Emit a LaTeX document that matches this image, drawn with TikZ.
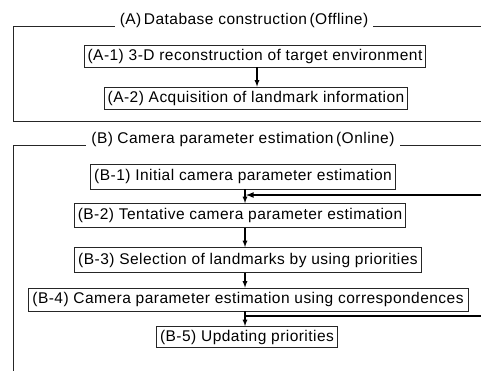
\documentclass[tikz,border=0pt]{standalone}
\usepackage{fontspec}
\setmainfont[LetterSpace=3]{Liberation Sans}
\tikzset{
  stepbox/.style={draw=black!85, line width=0.8pt, inner xsep=3.5pt, minimum height=22pt, inner ysep=0pt},
  legend/.style={fill=white, inner xsep=5pt, inner ysep=0pt},
  frame/.style={draw=black!85, line width=0.8pt},
  flow/.style={line width=1.2pt, ->},
  fb/.style={line width=1.6pt}
}
\begin{document}
\begin{tikzpicture}[x=1pt, y=-1pt, >=latex, font=\fontsize{15.5}{18}\selectfont]
  \useasboundingbox (0,0) rectangle (481,370);
  % (A) offline part
  \draw[frame] (490,26) -- (13,26) -- (13,121) -- (490,121);
  \node[legend] (TA) at (244,20) {(A)\,Database construction\,(Offline)};
  \node[stepbox] (A1) at (255,56) {(A-1) 3-D reconstruction of target environment};
  \node[stepbox] (A2) at (256,98) {(A-2) Acquisition of landmark information};
  \draw[flow] (A1.south -| 257,0) -- (A2.north -| 257,0);
  % (B) online part
  \draw[frame] (490,145) -- (13,145) -- (13,380);
  \node[legend] (TB) at (243,139) {(B)\;Camera parameter estimation\,(Online)};
  \node[stepbox, minimum height=25pt] (B1) at (243,176.5) {(B-1) Initial camera parameter estimation};
  \node[stepbox, minimum height=24pt] (B2) at (240,215.5) {(B-2) Tentative camera parameter estimation};
  \node[stepbox, minimum height=25pt] (B3) at (248,260) {(B-3) Selection of landmarks by using priorities};
  \node[stepbox, minimum height=23pt, inner xsep=4.5pt] (B4) at (248,299.5) {(B-4) Camera parameter estimation using correspondences};
  \node[stepbox, minimum height=21pt] (B5) at (247,337) {(B-5) Updating priorities};
  \coordinate (sp) at (245,0);
  \coordinate (fbin) at (246,195);
  \coordinate (fbout) at (245,316);
  \coordinate (fbr1) at (495,316);
  \coordinate (fbr2) at (495,195);
  \draw[flow] (B1.south -| sp) -- (B2.north -| sp);
  \draw[flow] (B2.south -| sp) -- (B3.north -| sp);
  \draw[flow] (B3.south -| sp) -- (B4.north -| sp);
  \draw[flow] (B4.south -| sp) -- (B5.north -| sp);
  \draw[fb,->] (fbout) -- (fbr1) -- (fbr2) -- (fbin);
\end{tikzpicture}
\end{document}
